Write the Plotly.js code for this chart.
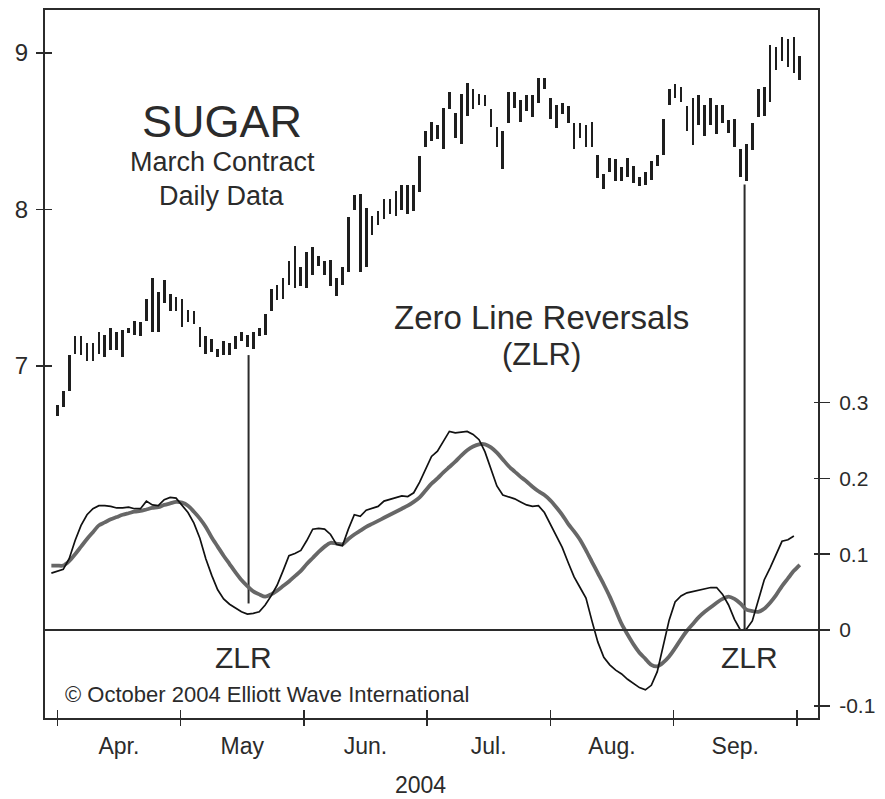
<!DOCTYPE html>
<html>
<head>
<meta charset="utf-8">
<script src="https://cdn.plot.ly/plotly-3.0.1.min.js"></script>
<style>
  html, body { margin: 0; padding: 0; background: #fff; }
  #chart { width: 885px; height: 799px; }
</style>
</head>
<body>
<div id="chart"></div>
<script>
// ---- Price bars (daily high / low), one per trading day ----
var barHigh = [6.75,6.84,7.07,7.19,7.19,7.15,7.15,7.22,7.20,7.24,
  7.22,7.23,7.24,7.29,7.28,7.43,7.56,7.47,7.55,7.46,
  7.44,7.43,7.36,7.35,7.25,7.19,7.17,7.11,7.16,7.15,
  7.19,7.22,7.20,7.22,7.24,7.33,7.49,7.52,7.56,7.67,
  7.77,7.63,7.73,7.76,7.70,7.67,7.68,7.56,7.63,7.95,
  8.09,8.10,8.01,7.96,7.99,8.07,8.07,8.12,8.16,8.16,
  8.16,8.34,8.50,8.56,8.54,8.65,8.75,8.62,8.74,8.81,
  8.77,8.74,8.73,8.64,8.53,8.50,8.75,8.75,8.70,8.73,
  8.73,8.84,8.84,8.71,8.67,8.68,8.66,8.55,8.55,8.54,
  8.56,8.35,8.23,8.33,8.32,8.27,8.33,8.28,8.21,8.24,
  8.31,8.35,8.58,8.77,8.80,8.78,8.66,8.71,8.73,8.67,
  8.71,8.67,8.67,8.57,8.58,8.39,8.42,8.55,8.77,8.78,
  9.05,9.04,9.10,9.09,9.10,8.98];
var barLow = [6.68,6.74,6.84,7.08,7.07,7.03,7.03,7.08,7.06,7.10,
  7.10,7.06,7.21,7.20,7.19,7.29,7.22,7.22,7.40,7.35,
  7.35,7.25,7.28,7.27,7.12,7.08,7.09,7.06,7.07,7.07,
  7.11,7.16,7.12,7.11,7.19,7.20,7.35,7.42,7.43,7.52,
  7.50,7.51,7.50,7.58,7.64,7.58,7.51,7.45,7.52,7.60,
  8.00,7.60,7.63,7.84,7.90,7.94,7.97,7.96,8.00,7.97,
  7.99,8.11,8.40,8.44,8.45,8.39,8.64,8.46,8.42,8.60,
  8.64,8.67,8.66,8.53,8.40,8.26,8.55,8.65,8.56,8.63,
  8.59,8.68,8.77,8.58,8.52,8.61,8.55,8.39,8.46,8.40,
  8.40,8.20,8.13,8.24,8.18,8.18,8.21,8.17,8.15,8.16,
  8.19,8.28,8.35,8.67,8.71,8.69,8.50,8.41,8.54,8.47,
  8.54,8.48,8.55,8.49,8.40,8.21,8.18,8.38,8.59,8.60,
  8.69,8.89,8.95,8.91,8.87,8.83];

// ---- Oscillator (thin black) and its moving average (thick gray), from day -1 ----
var oscFast = [0.075,0.077,0.080,0.094,0.118,0.138,0.152,0.160,0.164,0.164,
  0.163,0.161,0.161,0.162,0.160,0.160,0.170,0.165,0.164,0.172,
  0.175,0.174,0.164,0.155,0.141,0.121,0.094,0.072,0.053,0.041,
  0.034,0.029,0.024,0.021,0.022,0.024,0.033,0.045,0.059,0.078,
  0.098,0.101,0.105,0.118,0.133,0.134,0.133,0.126,0.113,0.111,
  0.133,0.152,0.150,0.158,0.160,0.163,0.170,0.172,0.174,0.177,
  0.176,0.181,0.195,0.213,0.229,0.236,0.250,0.262,0.260,0.261,
  0.262,0.258,0.251,0.235,0.213,0.190,0.178,0.176,0.173,0.169,
  0.165,0.163,0.164,0.155,0.139,0.124,0.109,0.089,0.070,0.056,
  0.042,0.012,-0.016,-0.036,-0.046,-0.053,-0.058,-0.065,-0.071,-0.076,
  -0.079,-0.073,-0.055,-0.023,0.013,0.037,0.045,0.049,0.051,0.053,
  0.055,0.056,0.056,0.047,0.033,0.014,0.000,0.001,0.012,0.040,
  0.066,0.082,0.100,0.117,0.119,0.124];
var oscSlow = [0.085,0.085,0.085,0.091,0.100,0.110,0.120,0.129,0.138,0.142,
  0.146,0.149,0.152,0.154,0.156,0.157,0.159,0.161,0.162,0.165,
  0.167,0.169,0.168,0.164,0.156,0.147,0.136,0.122,0.110,0.098,
  0.087,0.076,0.066,0.058,0.051,0.047,0.044,0.047,0.052,0.058,
  0.064,0.071,0.078,0.087,0.095,0.103,0.110,0.115,0.114,0.113,
  0.120,0.126,0.131,0.136,0.140,0.144,0.148,0.152,0.156,0.160,
  0.164,0.169,0.175,0.184,0.193,0.200,0.208,0.215,0.222,0.230,
  0.237,0.242,0.245,0.245,0.241,0.234,0.225,0.216,0.209,0.202,
  0.196,0.189,0.183,0.178,0.171,0.162,0.152,0.140,0.130,0.119,
  0.105,0.090,0.075,0.060,0.044,0.026,0.008,-0.006,-0.019,-0.030,
  -0.038,-0.046,-0.048,-0.043,-0.035,-0.024,-0.012,-0.001,0.008,0.017,
  0.024,0.030,0.036,0.041,0.044,0.041,0.035,0.027,0.025,0.024,
  0.028,0.036,0.046,0.058,0.068,0.078,0.086];
var oscStartDay = -1;

// ---- Zero Line Reversal markers: day, price level at top, oscillator level at bottom ----
var zlrDay = [32.2, 115.7];
var zlrPrice = [7.07, 8.16];
var zlrOsc = [0.035, 0.0];

// ---- Axis ticks ----
var monthBounds = [0, 20.75, 41.5, 62.25, 83, 103.75, 124.5];
var monthNames = ['Apr.', 'May', 'Jun.', 'Jul.', 'Aug.', 'Sep.'];
var priceTicks = [7, 8, 9];
var oscTicks = [-0.1, 0, 0.1, 0.2, 0.3];
var oscTickText = ['-0.1', '0', '0.1', '0.2', '0.3'];

// ---- Ranges ----
var xRange = [-2.07, 128.06];
var priceRange = [4.751, 9.275];
var oscRange = [-0.1161, 0.8179];

var days = barHigh.map(function (_, i) { return i; });
var barSpan = barHigh.map(function (h, i) { return +(h - barLow[i]).toFixed(3); });
var fastX = oscFast.map(function (_, i) { return i + oscStartDay; });
var slowX = oscSlow.map(function (_, i) { return i + oscStartDay; });
var monthMid = monthNames.map(function (_, i) { return (monthBounds[i] + monthBounds[i + 1]) / 2; });

function oscToPrice(v) {
  return priceRange[0] + (v - oscRange[0]) / (oscRange[1] - oscRange[0]) * (priceRange[1] - priceRange[0]);
}
var zx = [], zy = [];
zlrDay.forEach(function (d, k) {
  zx.push(d, d, null);
  zy.push(zlrPrice[k], oscToPrice(zlrOsc[k]), null);
});

var ink = '#2b2b2b';
var FONT = 'Liberation Sans, Arial, Helvetica, sans-serif';

function axisHolder(xa, ya) {
  return { type: 'scatter', mode: 'lines', x: [], y: [], xaxis: xa, yaxis: ya,
    hoverinfo: 'skip', showlegend: false };
}

var traces = [
  axisHolder('x2', 'y'),
  axisHolder('x3', 'y'),
  axisHolder('x', 'y3'),
  axisHolder('x', 'y4'),
  { type: 'bar', x: days, base: barLow, y: barSpan, width: 0.46,
    marker: { color: '#1e1e1e', line: { width: 0 } }, xaxis: 'x', yaxis: 'y',
    hoverinfo: 'skip', showlegend: false },
  { type: 'scatter', mode: 'lines', x: zx, y: zy, xaxis: 'x', yaxis: 'y',
    line: { color: '#2b2b2b', width: 2 }, hoverinfo: 'skip', showlegend: false },
  { type: 'scatter', mode: 'lines', x: slowX, y: oscSlow, xaxis: 'x', yaxis: 'y2',
    line: { color: '#676767', width: 3.8, shape: 'spline', smoothing: 0.8 },
    hoverinfo: 'skip', showlegend: false },
  { type: 'scatter', mode: 'lines', x: fastX, y: oscFast, xaxis: 'x', yaxis: 'y2',
    line: { color: '#111', width: 1.7 }, hoverinfo: 'skip', showlegend: false }
];

var layout = {
  width: 885, height: 799,
  margin: { l: 45, r: 67, t: 10, b: 81 },
  paper_bgcolor: '#fff', plot_bgcolor: '#fff',
  font: { family: FONT, color: ink },
  showlegend: false,
  bargap: 0,
  xaxis: { range: xRange, tickvals: monthBounds, showticklabels: false,
    ticks: 'outside', ticklen: 6, tickwidth: 1.5, tickcolor: ink,
    showline: true, mirror: true, linewidth: 2, linecolor: ink,
    showgrid: false, zeroline: false, fixedrange: true },
  xaxis2: { overlaying: 'x', anchor: 'y', side: 'bottom', range: xRange,
    tickvals: monthMid, ticktext: monthNames, ticks: '',
    tickfont: { size: 23, family: FONT, color: ink }, ticklabelstandoff: 12,
    showline: false, showgrid: false, zeroline: false },
  xaxis3: { overlaying: 'x', anchor: 'y', side: 'bottom', range: xRange,
    tickvals: monthBounds, showticklabels: false, ticks: 'inside', ticklen: 8,
    tickwidth: 1.5, tickcolor: ink, showline: false, showgrid: false, zeroline: false },
  yaxis: { range: priceRange, tickvals: priceTicks, ticks: 'outside', ticklen: 7,
    tickwidth: 1.5, tickcolor: ink, tickfont: { size: 24, family: FONT, color: ink },
    ticklabelstandoff: 3,
    showline: true, mirror: true, linewidth: 2, linecolor: ink,
    showgrid: false, zeroline: false },
  yaxis3: { overlaying: 'y', anchor: 'x', side: 'left', range: priceRange,
    tickvals: priceTicks, showticklabels: false, ticks: 'inside', ticklen: 7,
    tickwidth: 1.5, tickcolor: ink, showline: false, showgrid: false, zeroline: false },
  yaxis2: { overlaying: 'y', anchor: 'x', side: 'right', range: oscRange,
    tickvals: oscTicks, ticktext: oscTickText, ticks: 'outside', ticklen: 11,
    tickwidth: 1.5, tickcolor: ink, tickfont: { size: 21, family: FONT, color: ink },
    ticklabelstandoff: 5,
    showline: false, showgrid: false, zeroline: false },
  yaxis4: { overlaying: 'y', anchor: 'x', side: 'right', range: oscRange,
    tickvals: oscTicks, showticklabels: false, ticks: 'inside', ticklen: 4,
    tickwidth: 1.5, tickcolor: ink, showline: false, showgrid: false, zeroline: false },
  shapes: [
    { type: 'line', xref: 'paper', x0: 0, x1: 1, yref: 'y2', y0: 0, y1: 0,
      line: { color: ink, width: 2 } }
  ],
  annotations: [
    { text: 'SUGAR', xref: 'paper', yref: 'paper', x: 0.229, y: 0.842, showarrow: false,
      xanchor: 'center', yanchor: 'middle', font: { size: 45, family: FONT, color: ink } },
    { text: 'March Contract', xref: 'paper', yref: 'paper', x: 0.229, y: 0.785, showarrow: false,
      xanchor: 'center', yanchor: 'middle', font: { size: 27, family: FONT, color: ink } },
    { text: 'Daily Data', xref: 'paper', yref: 'paper', x: 0.229, y: 0.737, showarrow: false,
      xanchor: 'center', yanchor: 'middle', font: { size: 27, family: FONT, color: ink } },
    { text: 'Zero Line Reversals', xref: 'paper', yref: 'paper', x: 0.642, y: 0.565, showarrow: false,
      xanchor: 'center', yanchor: 'middle', font: { size: 33, family: FONT, color: ink } },
    { text: '(ZLR)', xref: 'paper', yref: 'paper', x: 0.642, y: 0.513, showarrow: false,
      xanchor: 'center', yanchor: 'middle', font: { size: 31, family: FONT, color: ink } },
    { text: 'ZLR', xref: 'paper', yref: 'paper', x: 0.257, y: 0.085, showarrow: false,
      xanchor: 'center', yanchor: 'middle', font: { size: 30, family: FONT, color: ink } },
    { text: 'ZLR', xref: 'paper', yref: 'paper', x: 0.911, y: 0.085, showarrow: false,
      xanchor: 'center', yanchor: 'middle', font: { size: 30, family: FONT, color: ink } },
    { text: '© October 2004 Elliott Wave International', xref: 'paper', yref: 'paper',
      x: 0.0233, y: 0.0325, showarrow: false, xanchor: 'left', yanchor: 'middle',
      font: { size: 22, family: FONT, color: ink } },
    { text: '2004', xref: 'paper', yref: 'paper', x: 0.4864, y: -0.0946, showarrow: false,
      xanchor: 'center', yanchor: 'middle', font: { size: 23, family: FONT, color: ink } }
  ]
};

Plotly.newPlot('chart', traces, layout, { staticPlot: true, displayModeBar: false });
</script>
</body>
</html>
